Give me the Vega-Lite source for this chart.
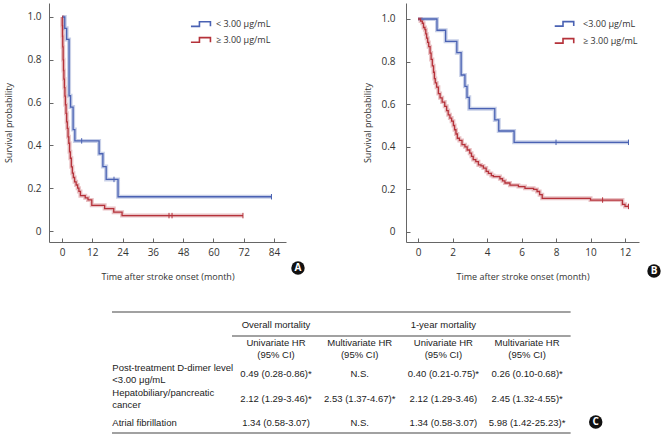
{
  "$schema": "https://vega.github.io/schema/vega-lite/v6.json",
  "padding": {"left": 4, "top": 3, "right": 0, "bottom": 0},
  "background": "white",
  "config": {
    "view": {"stroke": null},
    "font": "Open Sans",
    "axis": {"grid": false, "domainColor": "#666", "tickColor": "#666", "labelColor": "#333", "titleColor": "#333", "labelFont": "Open Sans", "titleFont": "Open Sans", "labelFontSize": 10, "titleFontSize": 9, "titleFontWeight": "normal", "labelFlush": false, "labelOverlap": false, "tickSize": -4}
  },
  "datasets": {
    "km": [
      {"panel": "A", "group": "< 3.00 μg/mL", "month": 0, "survival": 1},
      {"panel": "A", "group": "< 3.00 μg/mL", "month": 1.1, "survival": 0.947},
      {"panel": "A", "group": "< 3.00 μg/mL", "month": 1.85, "survival": 0.895},
      {"panel": "A", "group": "< 3.00 μg/mL", "month": 2.8, "survival": 0.632},
      {"panel": "A", "group": "< 3.00 μg/mL", "month": 3.4, "survival": 0.579},
      {"panel": "A", "group": "< 3.00 μg/mL", "month": 4.4, "survival": 0.474},
      {"panel": "A", "group": "< 3.00 μg/mL", "month": 5.1, "survival": 0.421},
      {"panel": "A", "group": "< 3.00 μg/mL", "month": 14.7, "survival": 0.361},
      {"panel": "A", "group": "< 3.00 μg/mL", "month": 16.2, "survival": 0.301},
      {"panel": "A", "group": "< 3.00 μg/mL", "month": 17.5, "survival": 0.241},
      {"panel": "A", "group": "< 3.00 μg/mL", "month": 22.2, "survival": 0.16},
      {"panel": "A", "group": "< 3.00 μg/mL", "month": 83, "survival": 0.16},
      {"panel": "A", "group": "≥ 3.00 μg/mL", "month": 0, "survival": 1},
      {"panel": "A", "group": "≥ 3.00 μg/mL", "month": 0.1, "survival": 0.96},
      {"panel": "A", "group": "≥ 3.00 μg/mL", "month": 0.2, "survival": 0.91},
      {"panel": "A", "group": "≥ 3.00 μg/mL", "month": 0.3, "survival": 0.86},
      {"panel": "A", "group": "≥ 3.00 μg/mL", "month": 0.45, "survival": 0.8},
      {"panel": "A", "group": "≥ 3.00 μg/mL", "month": 0.6, "survival": 0.75},
      {"panel": "A", "group": "≥ 3.00 μg/mL", "month": 0.75, "survival": 0.71},
      {"panel": "A", "group": "≥ 3.00 μg/mL", "month": 0.95, "survival": 0.67},
      {"panel": "A", "group": "≥ 3.00 μg/mL", "month": 1.15, "survival": 0.63},
      {"panel": "A", "group": "≥ 3.00 μg/mL", "month": 1.35, "survival": 0.59},
      {"panel": "A", "group": "≥ 3.00 μg/mL", "month": 1.6, "survival": 0.55},
      {"panel": "A", "group": "≥ 3.00 μg/mL", "month": 1.85, "survival": 0.51},
      {"panel": "A", "group": "≥ 3.00 μg/mL", "month": 2.1, "survival": 0.48},
      {"panel": "A", "group": "≥ 3.00 μg/mL", "month": 2.4, "survival": 0.44},
      {"panel": "A", "group": "≥ 3.00 μg/mL", "month": 2.7, "survival": 0.41},
      {"panel": "A", "group": "≥ 3.00 μg/mL", "month": 3.0, "survival": 0.37},
      {"panel": "A", "group": "≥ 3.00 μg/mL", "month": 3.3, "survival": 0.34},
      {"panel": "A", "group": "≥ 3.00 μg/mL", "month": 3.7, "survival": 0.3},
      {"panel": "A", "group": "≥ 3.00 μg/mL", "month": 4.1, "survival": 0.27},
      {"panel": "A", "group": "≥ 3.00 μg/mL", "month": 4.5, "survival": 0.25},
      {"panel": "A", "group": "≥ 3.00 μg/mL", "month": 5.0, "survival": 0.23},
      {"panel": "A", "group": "≥ 3.00 μg/mL", "month": 5.6, "survival": 0.215},
      {"panel": "A", "group": "≥ 3.00 μg/mL", "month": 6.2, "survival": 0.2},
      {"panel": "A", "group": "≥ 3.00 μg/mL", "month": 6.7, "survival": 0.185},
      {"panel": "A", "group": "≥ 3.00 μg/mL", "month": 7.3, "survival": 0.165},
      {"panel": "A", "group": "≥ 3.00 μg/mL", "month": 9.2, "survival": 0.155},
      {"panel": "A", "group": "≥ 3.00 μg/mL", "month": 10.3, "survival": 0.145},
      {"panel": "A", "group": "≥ 3.00 μg/mL", "month": 11.8, "survival": 0.12},
      {"panel": "A", "group": "≥ 3.00 μg/mL", "month": 16.9, "survival": 0.105},
      {"panel": "A", "group": "≥ 3.00 μg/mL", "month": 20.5, "survival": 0.088},
      {"panel": "A", "group": "≥ 3.00 μg/mL", "month": 23.8, "survival": 0.072},
      {"panel": "A", "group": "≥ 3.00 μg/mL", "month": 71.7, "survival": 0.072},
      {"panel": "B", "group": "< 3.00 μg/mL", "month": 0, "survival": 1},
      {"panel": "B", "group": "< 3.00 μg/mL", "month": 1.1, "survival": 0.947},
      {"panel": "B", "group": "< 3.00 μg/mL", "month": 1.6, "survival": 0.895},
      {"panel": "B", "group": "< 3.00 μg/mL", "month": 2.25, "survival": 0.842},
      {"panel": "B", "group": "< 3.00 μg/mL", "month": 2.5, "survival": 0.737},
      {"panel": "B", "group": "< 3.00 μg/mL", "month": 2.72, "survival": 0.684},
      {"panel": "B", "group": "< 3.00 μg/mL", "month": 2.84, "survival": 0.632},
      {"panel": "B", "group": "< 3.00 μg/mL", "month": 2.97, "survival": 0.579},
      {"panel": "B", "group": "< 3.00 μg/mL", "month": 4.45, "survival": 0.526},
      {"panel": "B", "group": "< 3.00 μg/mL", "month": 4.68, "survival": 0.474},
      {"panel": "B", "group": "< 3.00 μg/mL", "month": 5.57, "survival": 0.421},
      {"panel": "B", "group": "< 3.00 μg/mL", "month": 12.2, "survival": 0.421},
      {"panel": "B", "group": "≥ 3.00 μg/mL", "month": 0, "survival": 1},
      {"panel": "B", "group": "≥ 3.00 μg/mL", "month": 0.15, "survival": 0.99},
      {"panel": "B", "group": "≥ 3.00 μg/mL", "month": 0.25, "survival": 0.98},
      {"panel": "B", "group": "≥ 3.00 μg/mL", "month": 0.32, "survival": 0.96},
      {"panel": "B", "group": "≥ 3.00 μg/mL", "month": 0.4, "survival": 0.95},
      {"panel": "B", "group": "≥ 3.00 μg/mL", "month": 0.45, "survival": 0.93},
      {"panel": "B", "group": "≥ 3.00 μg/mL", "month": 0.5, "survival": 0.91},
      {"panel": "B", "group": "≥ 3.00 μg/mL", "month": 0.56, "survival": 0.89},
      {"panel": "B", "group": "≥ 3.00 μg/mL", "month": 0.62, "survival": 0.87},
      {"panel": "B", "group": "≥ 3.00 μg/mL", "month": 0.7, "survival": 0.84},
      {"panel": "B", "group": "≥ 3.00 μg/mL", "month": 0.76, "survival": 0.81},
      {"panel": "B", "group": "≥ 3.00 μg/mL", "month": 0.83, "survival": 0.78},
      {"panel": "B", "group": "≥ 3.00 μg/mL", "month": 0.9, "survival": 0.75},
      {"panel": "B", "group": "≥ 3.00 μg/mL", "month": 0.95, "survival": 0.72},
      {"panel": "B", "group": "≥ 3.00 μg/mL", "month": 1.0, "survival": 0.7},
      {"panel": "B", "group": "≥ 3.00 μg/mL", "month": 1.08, "survival": 0.68},
      {"panel": "B", "group": "≥ 3.00 μg/mL", "month": 1.18, "survival": 0.65},
      {"panel": "B", "group": "≥ 3.00 μg/mL", "month": 1.28, "survival": 0.63},
      {"panel": "B", "group": "≥ 3.00 μg/mL", "month": 1.4, "survival": 0.61},
      {"panel": "B", "group": "≥ 3.00 μg/mL", "month": 1.55, "survival": 0.59},
      {"panel": "B", "group": "≥ 3.00 μg/mL", "month": 1.66, "survival": 0.57},
      {"panel": "B", "group": "≥ 3.00 μg/mL", "month": 1.75, "survival": 0.55},
      {"panel": "B", "group": "≥ 3.00 μg/mL", "month": 1.85, "survival": 0.535},
      {"panel": "B", "group": "≥ 3.00 μg/mL", "month": 1.95, "survival": 0.52},
      {"panel": "B", "group": "≥ 3.00 μg/mL", "month": 2.05, "survival": 0.5},
      {"panel": "B", "group": "≥ 3.00 μg/mL", "month": 2.12, "survival": 0.48},
      {"panel": "B", "group": "≥ 3.00 μg/mL", "month": 2.2, "survival": 0.46},
      {"panel": "B", "group": "≥ 3.00 μg/mL", "month": 2.28, "survival": 0.44},
      {"panel": "B", "group": "≥ 3.00 μg/mL", "month": 2.4, "survival": 0.43},
      {"panel": "B", "group": "≥ 3.00 μg/mL", "month": 2.55, "survival": 0.41},
      {"panel": "B", "group": "≥ 3.00 μg/mL", "month": 2.72, "survival": 0.4},
      {"panel": "B", "group": "≥ 3.00 μg/mL", "month": 2.85, "survival": 0.385},
      {"panel": "B", "group": "≥ 3.00 μg/mL", "month": 3.0, "survival": 0.37},
      {"panel": "B", "group": "≥ 3.00 μg/mL", "month": 3.1, "survival": 0.355},
      {"panel": "B", "group": "≥ 3.00 μg/mL", "month": 3.2, "survival": 0.34},
      {"panel": "B", "group": "≥ 3.00 μg/mL", "month": 3.35, "survival": 0.33},
      {"panel": "B", "group": "≥ 3.00 μg/mL", "month": 3.5, "survival": 0.315},
      {"panel": "B", "group": "≥ 3.00 μg/mL", "month": 3.65, "survival": 0.31},
      {"panel": "B", "group": "≥ 3.00 μg/mL", "month": 3.79, "survival": 0.3},
      {"panel": "B", "group": "≥ 3.00 μg/mL", "month": 3.95, "survival": 0.285},
      {"panel": "B", "group": "≥ 3.00 μg/mL", "month": 4.08, "survival": 0.275},
      {"panel": "B", "group": "≥ 3.00 μg/mL", "month": 4.25, "survival": 0.265},
      {"panel": "B", "group": "≥ 3.00 μg/mL", "month": 4.37, "survival": 0.26},
      {"panel": "B", "group": "≥ 3.00 μg/mL", "month": 4.75, "survival": 0.25},
      {"panel": "B", "group": "≥ 3.00 μg/mL", "month": 4.9, "survival": 0.24},
      {"panel": "B", "group": "≥ 3.00 μg/mL", "month": 5.04, "survival": 0.23},
      {"panel": "B", "group": "≥ 3.00 μg/mL", "month": 5.33, "survival": 0.22},
      {"panel": "B", "group": "≥ 3.00 μg/mL", "month": 5.82, "survival": 0.213},
      {"panel": "B", "group": "≥ 3.00 μg/mL", "month": 6.2, "survival": 0.205},
      {"panel": "B", "group": "≥ 3.00 μg/mL", "month": 6.7, "survival": 0.2},
      {"panel": "B", "group": "≥ 3.00 μg/mL", "month": 6.9, "survival": 0.19},
      {"panel": "B", "group": "≥ 3.00 μg/mL", "month": 7.05, "survival": 0.175},
      {"panel": "B", "group": "≥ 3.00 μg/mL", "month": 7.2, "survival": 0.158},
      {"panel": "B", "group": "≥ 3.00 μg/mL", "month": 10.0, "survival": 0.15},
      {"panel": "B", "group": "≥ 3.00 μg/mL", "month": 11.85, "survival": 0.13},
      {"panel": "B", "group": "≥ 3.00 μg/mL", "month": 12.0, "survival": 0.12},
      {"panel": "B", "group": "≥ 3.00 μg/mL", "month": 12.2, "survival": 0.12}
    ],
    "censor": [
      {"panel": "A", "group": "< 3.00 μg/mL", "month": 7.8, "survival": 0.421},
      {"panel": "A", "group": "< 3.00 μg/mL", "month": 20.6, "survival": 0.241},
      {"panel": "A", "group": "< 3.00 μg/mL", "month": 83, "survival": 0.16},
      {"panel": "A", "group": "≥ 3.00 μg/mL", "month": 42.4, "survival": 0.072},
      {"panel": "A", "group": "≥ 3.00 μg/mL", "month": 43.6, "survival": 0.072},
      {"panel": "A", "group": "≥ 3.00 μg/mL", "month": 71.7, "survival": 0.072},
      {"panel": "B", "group": "< 3.00 μg/mL", "month": 8.0, "survival": 0.421},
      {"panel": "B", "group": "< 3.00 μg/mL", "month": 12.2, "survival": 0.421},
      {"panel": "B", "group": "≥ 3.00 μg/mL", "month": 10.7, "survival": 0.15},
      {"panel": "B", "group": "≥ 3.00 μg/mL", "month": 12.2, "survival": 0.12}
    ],
    "legend": [
      {"panel": "A", "group": "< 3.00 μg/mL", "label": "< 3.00 μg/mL"},
      {"panel": "A", "group": "≥ 3.00 μg/mL", "label": "≥ 3.00 μg/mL"},
      {"panel": "B", "group": "< 3.00 μg/mL", "label": "<3.00 μg/mL"},
      {"panel": "B", "group": "≥ 3.00 μg/mL", "label": "≥ 3.00 μg/mL"}
    ],
    "cells": [
      {"row": 0, "col": 1, "text": "Overall mortality"},
      {"row": 0, "col": 3, "text": "1-year mortality"},
      {"row": 1, "col": 1, "text": "Univariate HR\n(95% CI)"},
      {"row": 1, "col": 2, "text": "Multivariate HR\n(95% CI)"},
      {"row": 1, "col": 3, "text": "Univariate HR\n(95% CI)"},
      {"row": 1, "col": 4, "text": "Multivariate HR\n(95% CI)"},
      {"row": 2, "col": 0, "text": "Post-treatment D-dimer level\n<3.00 μg/mL"},
      {"row": 2, "col": 1, "text": "0.49 (0.28-0.86)*"},
      {"row": 2, "col": 2, "text": "N.S."},
      {"row": 2, "col": 3, "text": "0.40 (0.21-0.75)*"},
      {"row": 2, "col": 4, "text": "0.26 (0.10-0.68)*"},
      {"row": 3, "col": 0, "text": "Hepatobiliary/pancreatic\ncancer"},
      {"row": 3, "col": 1, "text": "2.12 (1.29-3.46)*"},
      {"row": 3, "col": 2, "text": "2.53 (1.37-4.67)*"},
      {"row": 3, "col": 3, "text": "2.12 (1.29-3.46)"},
      {"row": 3, "col": 4, "text": "2.45 (1.32-4.55)*"},
      {"row": 4, "col": 0, "text": "Atrial fibrillation"},
      {"row": 4, "col": 1, "text": "1.34 (0.58-3.07)"},
      {"row": 4, "col": 2, "text": "N.S."},
      {"row": 4, "col": 3, "text": "1.34 (0.58-3.07)"},
      {"row": 4, "col": 4, "text": "5.98 (1.42-25.23)*"}
    ],
    "rules": [
      {"line": "top", "from": -0.96, "to": 4.52, "pos": -0.53},
      {"line": "mid", "from": 0.474, "to": 4.52, "pos": 0.45},
      {"line": "bottom", "from": -0.96, "to": 4.52, "pos": 4.41}
    ]
  },
  "spacing": 19,
  "vconcat": [
    {
      "hconcat": [
        {
          "width": 237,
          "height": 239,
          "layer": [
            {
              "data": {"name": "km"},
              "transform": [{"filter": "datum.panel == 'A'"}],
              "mark": {"type": "line", "interpolate": "step-after", "strokeWidth": 4, "opacity": 0.3},
              "encoding": {
                "x": {"field": "month", "type": "quantitative", "scale": {"domain": [-5.15, 88.75], "nice": false, "zero": false},
                  "axis": {"values": [0, 12, 24, 36, 48, 60, 72, 84], "format": "d", "tickCount": 20, "labelOverlap": false, "labelPadding": 9, "title": "Time after stroke onset (month)", "titleY": 34, "titleBaseline": "middle"}},
                "y": {"field": "survival", "type": "quantitative", "scale": {"domain": [-0.0514, 1.0654], "nice": false, "zero": false},
                  "axis": {"values": [0, 0.2, 0.4, 0.6, 0.8, 1], "tickCount": 20, "labelOverlap": false, "labelExpr": "datum.value == 0 ? '0' : format(datum.value, '.1f')", "labelPadding": 12, "title": "Survival probability", "titleX": -41, "titleBaseline": "middle"}},
                "color": {"field": "group", "type": "nominal", "scale": {"domain": ["< 3.00 μg/mL", "≥ 3.00 μg/mL"], "range": ["#4a62b3", "#b5323a"]}, "legend": null}
              }
            },
            {
              "data": {"name": "km"},
              "transform": [{"filter": "datum.panel == 'A'"}],
              "mark": {"type": "line", "interpolate": "step-after", "strokeWidth": 1.3},
              "encoding": {
                "x": {"field": "month", "type": "quantitative"},
                "y": {"field": "survival", "type": "quantitative"},
                "color": {"field": "group", "type": "nominal", "legend": null}
              }
            },
            {
              "data": {"name": "censor"},
              "transform": [{"filter": "datum.panel == 'A'"}],
              "mark": {"type": "point", "shape": "M0,-1L0,1", "size": 30, "filled": false, "strokeWidth": 1, "opacity": 1},
              "encoding": {
                "x": {"field": "month", "type": "quantitative"},
                "y": {"field": "survival", "type": "quantitative"},
                "color": {"field": "group", "type": "nominal", "legend": null}
              }
            },
            {
              "data": {"name": "legend"},
              "transform": [{"filter": "datum.panel == 'A' && datum.group == '< 3.00 μg/mL'"}],
              "layer": [
                {"mark": {"type": "point", "shape": "M-1,0.23H-0.15V-0.23H0.95V0.23", "size": 400, "filled": false, "strokeWidth": 1.6, "opacity": 1},
                 "encoding": {"x": {"datum": 55.05}, "y": {"datum": 0.967}, "color": {"field": "group", "type": "nominal", "legend": null}}},
                {"mark": {"type": "text", "align": "left", "baseline": "middle", "font": "Open Sans", "fontSize": 9, "color": "#333"},
                 "encoding": {"x": {"datum": 61.0}, "y": {"datum": 0.967}, "text": {"field": "label"}}}
              ]
            },
            {
              "data": {"name": "legend"},
              "transform": [{"filter": "datum.panel == 'A' && datum.group == '≥ 3.00 μg/mL'"}],
              "layer": [
                {"mark": {"type": "point", "shape": "M-1,0.23H-0.15V-0.23H0.95V0.23", "size": 400, "filled": false, "strokeWidth": 1.6, "opacity": 1},
                 "encoding": {"x": {"datum": 55.05}, "y": {"datum": 0.893}, "color": {"field": "group", "type": "nominal", "legend": null}}},
                {"mark": {"type": "text", "align": "left", "baseline": "middle", "font": "Open Sans", "fontSize": 9, "color": "#333"},
                 "encoding": {"x": {"datum": 61.0}, "y": {"datum": 0.893}, "text": {"field": "label"}}}
              ]
            },
            {
              "data": {"values": [{"badge": "A"}]},
              "mark": {"type": "point", "filled": true, "shape": "circle", "size": 180, "color": "#111", "opacity": 1},
              "encoding": {"x": {"datum": 93.5}, "y": {"datum": -0.173}}
            },
            {
              "data": {"values": [{"badge": "A"}]},
              "mark": {"type": "text", "color": "white", "fontWeight": "bold", "fontSize": 10, "font": "Open Sans", "baseline": "middle", "align": "center"},
              "encoding": {"x": {"datum": 93.5}, "y": {"datum": -0.173}, "text": {"field": "badge"}}
            }
          ]
        },
        {
          "width": 233,
          "height": 239,
          "layer": [
            {
              "data": {"name": "km"},
              "transform": [{"filter": "datum.panel == 'B'"}],
              "mark": {"type": "line", "interpolate": "step-after", "strokeWidth": 4, "opacity": 0.3},
              "encoding": {
                "x": {"field": "month", "type": "quantitative", "scale": {"domain": [-0.696, 12.81], "nice": false, "zero": false},
                  "axis": {"values": [0, 2, 4, 6, 8, 10, 12], "format": "d", "tickCount": 20, "labelOverlap": false, "labelPadding": 9, "title": "Time after stroke onset (month)", "titleY": 34, "titleBaseline": "middle"}},
                "y": {"field": "survival", "type": "quantitative", "scale": {"domain": [-0.047, 1.075], "nice": false, "zero": false},
                  "axis": {"values": [0, 0.2, 0.4, 0.6, 0.8, 1], "tickCount": 20, "labelOverlap": false, "labelExpr": "datum.value == 0 ? '0' : format(datum.value, '.1f')", "labelPadding": 15, "title": "Survival probability", "titleX": -39, "titleBaseline": "middle"}},
                "color": {"field": "group", "type": "nominal", "legend": null}
              }
            },
            {
              "data": {"name": "km"},
              "transform": [{"filter": "datum.panel == 'B'"}],
              "mark": {"type": "line", "interpolate": "step-after", "strokeWidth": 1.3},
              "encoding": {
                "x": {"field": "month", "type": "quantitative"},
                "y": {"field": "survival", "type": "quantitative"},
                "color": {"field": "group", "type": "nominal", "legend": null}
              }
            },
            {
              "data": {"name": "censor"},
              "transform": [{"filter": "datum.panel == 'B'"}],
              "mark": {"type": "point", "shape": "M0,-1L0,1", "size": 30, "filled": false, "strokeWidth": 1, "opacity": 1},
              "encoding": {
                "x": {"field": "month", "type": "quantitative"},
                "y": {"field": "survival", "type": "quantitative"},
                "color": {"field": "group", "type": "nominal", "legend": null}
              }
            },
            {
              "data": {"name": "legend"},
              "transform": [{"filter": "datum.panel == 'B' && datum.group == '< 3.00 μg/mL'"}],
              "layer": [
                {"mark": {"type": "point", "shape": "M-1,0.23H-0.15V-0.23H0.95V0.23", "size": 380, "filled": false, "strokeWidth": 1.6, "opacity": 1},
                 "encoding": {"x": {"datum": 8.49}, "y": {"datum": 0.977}, "color": {"field": "group", "type": "nominal", "legend": null}}},
                {"mark": {"type": "text", "align": "left", "baseline": "middle", "font": "Open Sans", "fontSize": 9, "color": "#333"},
                 "encoding": {"x": {"datum": 9.57}, "y": {"datum": 0.977}, "text": {"field": "label"}}}
              ]
            },
            {
              "data": {"name": "legend"},
              "transform": [{"filter": "datum.panel == 'B' && datum.group == '≥ 3.00 μg/mL'"}],
              "layer": [
                {"mark": {"type": "point", "shape": "M-1,0.23H-0.15V-0.23H0.95V0.23", "size": 380, "filled": false, "strokeWidth": 1.6, "opacity": 1},
                 "encoding": {"x": {"datum": 8.49}, "y": {"datum": 0.897}, "color": {"field": "group", "type": "nominal", "legend": null}}},
                {"mark": {"type": "text", "align": "left", "baseline": "middle", "font": "Open Sans", "fontSize": 9, "color": "#333"},
                 "encoding": {"x": {"datum": 9.57}, "y": {"datum": 0.897}, "text": {"field": "label"}}}
              ]
            },
            {
              "data": {"values": [{"badge": "B"}]},
              "mark": {"type": "point", "filled": true, "shape": "circle", "size": 180, "color": "#111", "opacity": 1},
              "encoding": {"x": {"datum": 13.68}, "y": {"datum": -0.183}}
            },
            {
              "data": {"values": [{"badge": "B"}]},
              "mark": {"type": "text", "color": "white", "fontWeight": "bold", "fontSize": 10, "font": "Open Sans", "baseline": "middle", "align": "center"},
              "encoding": {"x": {"datum": 13.68}, "y": {"datum": -0.183}, "text": {"field": "badge"}}
            }
          ]
        }
      ],
      "spacing": 120,
      "bounds": "flush"
    },
    {
      "width": 590,
      "height": 142,
      "layer": [
        {
          "data": {"name": "rules"},
          "mark": {"type": "rule", "color": "#444", "strokeWidth": 1.1},
          "encoding": {
            "x": {"field": "from", "type": "quantitative", "scale": {"domain": [-1.712, 5.337], "nice": false, "zero": false}, "axis": null},
            "x2": {"field": "to"},
            "y": {"field": "pos", "type": "quantitative", "scale": {"domain": [-1.0204, 4.7755], "reverse": true, "nice": false, "zero": false}, "axis": null}
          }
        },
        {
          "data": {"name": "cells"},
          "transform": [{"filter": "datum.col > 0 && indexof(datum.text, '\\n') < 0"}],
          "mark": {"type": "text", "align": "center", "baseline": "middle", "font": "Liberation Sans", "fontSize": 9.5, "color": "#222"},
          "encoding": {
            "x": {"field": "col", "type": "quantitative"},
            "y": {"field": "row", "type": "quantitative"},
            "text": {"field": "text"}
          }
        },
        {
          "data": {"name": "cells"},
          "transform": [{"filter": "datum.col > 0 && indexof(datum.text, '\\n') >= 0"}],
          "mark": {"type": "text", "align": "center", "baseline": "middle", "dy": -6, "lineBreak": "\n", "lineHeight": 12, "font": "Liberation Sans", "fontSize": 9.5, "color": "#222"},
          "encoding": {
            "x": {"field": "col", "type": "quantitative"},
            "y": {"field": "row", "type": "quantitative"},
            "text": {"field": "text"}
          }
        },
        {
          "data": {"name": "cells"},
          "transform": [{"filter": "datum.col == 0 && indexof(datum.text, '\\n') >= 0"}],
          "mark": {"type": "text", "align": "left", "baseline": "middle", "dx": -80, "dy": -6, "lineBreak": "\n", "lineHeight": 12, "font": "Liberation Sans", "fontSize": 9.5, "color": "#222"},
          "encoding": {
            "x": {"field": "col", "type": "quantitative"},
            "y": {"field": "row", "type": "quantitative"},
            "text": {"field": "text"}
          }
        },
        {
          "data": {"name": "cells"},
          "transform": [{"filter": "datum.col == 0 && indexof(datum.text, '\\n') < 0"}],
          "mark": {"type": "text", "align": "left", "baseline": "middle", "dx": -80, "font": "Liberation Sans", "fontSize": 9.5, "color": "#222"},
          "encoding": {
            "x": {"field": "col", "type": "quantitative"},
            "y": {"field": "row", "type": "quantitative"},
            "text": {"field": "text"}
          }
        },
        {
          "data": {"values": [{"badge": "C"}]},
          "mark": {"type": "point", "filled": true, "shape": "circle", "size": 180, "color": "#111", "opacity": 1},
          "encoding": {"x": {"datum": 4.82}, "y": {"datum": 3.96}}
        },
        {
          "data": {"values": [{"badge": "C"}]},
          "mark": {"type": "text", "color": "white", "fontWeight": "bold", "fontSize": 10, "font": "Open Sans", "baseline": "middle", "align": "center"},
          "encoding": {"x": {"datum": 4.82}, "y": {"datum": 3.96}, "text": {"field": "badge"}}
        }
      ]
    }
  ]
}
